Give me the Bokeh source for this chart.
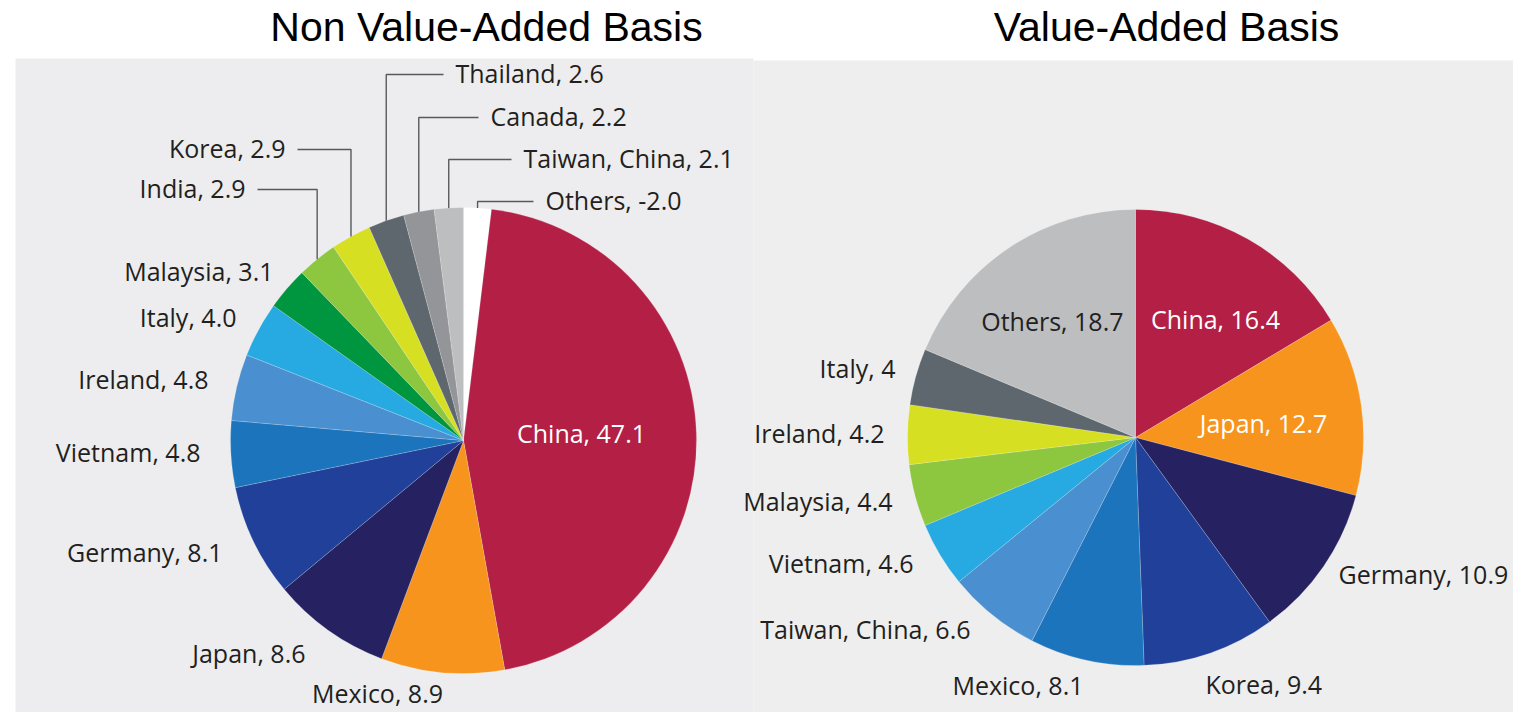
import math
from bokeh.plotting import figure
from bokeh.models import Range1d
from bokeh.core.properties import value
from bokeh.embed import file_html
from bokeh.resources import INLINE

# ---------------- data ----------------
nva_countries = ["Others", "China", "Mexico", "Japan", "Germany", "Vietnam", "Ireland",
                 "Italy", "Malaysia", "India", "Korea", "Thailand", "Canada", "Taiwan, China"]
nva_values = [-2.0, 47.1, 8.9, 8.6, 8.1, 4.8, 4.8, 4.0, 3.1, 2.9, 2.9, 2.6, 2.2, 2.1]

va_countries = ["China", "Japan", "Germany", "Korea", "Mexico", "Taiwan, China", "Vietnam",
                "Malaysia", "Ireland", "Italy", "Others"]
va_values = [16.4, 12.7, 10.9, 9.4, 8.1, 6.6, 4.6, 4.4, 4.2, 4, 18.7]

titles = ["Non Value-Added Basis", "Value-Added Basis"]

# ---------------- styles ----------------
nva_colors = ["#FFFFFF", "#B41F45", "#F7941D", "#262262", "#21409A", "#1C75BC", "#4A8FD0",
              "#27AAE1", "#00963F", "#8DC63F", "#D7DF23", "#5D676D", "#939598", "#BCBEC0"]
va_colors = ["#B41F45", "#F7941D", "#262262", "#21409A", "#1C75BC", "#4A8FD0", "#27AAE1",
             "#8DC63F", "#D7DF23", "#5D676D", "#BCBEC0"]

# label layout (pixel coords from top-left): x, y, align
nva_label_pos = [(545, 199, "left"), (581, 432, "center"), (377, 692, "center"), (305, 652, "right"),
                 (222, 551, "right"), (200, 451, "right"), (208, 378, "right"), (236, 316, "right"),
                 (273, 270, "right"), (245, 187, "right"), (285, 147, "right"), (455, 72, "left"),
                 (490, 115, "left"), (523, 157, "left")]
nva_label_col = ["#231F20", "#FFFFFF"] + ["#231F20"] * 12
nva_leaders = ["Others", "India", "Korea", "Thailand", "Canada", "Taiwan, China"]

va_label_pos = [(1215, 318, "center"), (1263, 422, "center"), (1338, 573, "left"), (1205, 683, "left"),
                (1083, 684, "right"), (970, 628, "right"), (913, 562, "right"), (892, 500, "right"),
                (884, 432, "right"), (895, 367, "right"), (1123, 320, "right")]
va_label_col = ["#FFFFFF", "#FFFFFF"] + ["#231F20"] * 9

W, H = 1513, 712


def X(rx):
    return rx


def Y(ry):
    return H - ry


p = figure(width=W, height=H, output_backend="svg", toolbar_location=None,
           x_range=Range1d(0, W), y_range=Range1d(0, H), min_border=0)
p.axis.visible = False
p.grid.visible = False
p.outline_line_color = None
p.background_fill_color = "white"
p.border_fill_color = "white"

# panels
p.quad(left=[X(15)], right=[X(753)], top=[Y(58)], bottom=[0], fill_color="#EDEDEF", line_color=None)
p.quad(left=[X(753)], right=[W], top=[Y(60)], bottom=[0], fill_color="#EEEEEF", line_color=None)

LBL_FONT = value("Open Sans")


def draw_pie(cx, cy, r, names, vals, colors, lpos, lcol, fmt, leaders):
    sizes = [abs(v) for v in vals]
    total = sum(sizes)
    starts, ends, mids = [], [], []
    cum = 0.0
    for s in sizes:
        a0 = math.pi / 2 - 2 * math.pi * cum / total
        cum += s
        a1 = math.pi / 2 - 2 * math.pi * cum / total
        starts.append(a0)
        ends.append(a1)
        mids.append((a0 + a1) / 2)
    p.wedge(x=[X(cx)] * len(vals), y=[Y(cy)] * len(vals), radius=r,
            start_angle=starts, end_angle=ends, direction="clock",
            fill_color=colors, line_color="white", line_alpha=0.3, line_width=0.6)
    texts = [f"{n}, {fmt(v)}" for n, v in zip(names, vals)]
    for t, (lx, ly, al), c in zip(texts, lpos, lcol):
        p.text(x=[X(lx)], y=[Y(ly)], text=[t], text_align=al, text_baseline="middle",
               text_font=LBL_FONT, text_font_size="25px", text_color=c)
    # leader lines
    for i, n in enumerate(names):
        if n not in leaders:
            continue
        lx, ly, al = lpos[i]
        ex = cx + r * math.cos(mids[i])
        ey = cy - r * math.sin(mids[i])
        ely = ly + 2
        hx = lx - 12 if al == "left" else lx + 12
        p.line(x=[X(hx), X(ex), X(ex)], y=[Y(ely), Y(ely), Y(ey)],
               line_color="#58595B", line_width=1.4)


draw_pie(463, 440, 233, nva_countries, nva_values, nva_colors, nva_label_pos, nva_label_col,
         lambda v: f"{v:.1f}", nva_leaders)
draw_pie(1135, 437, 228, va_countries, va_values, va_colors, va_label_pos, va_label_col,
         lambda v: f"{v}", [])

# titles
p.text(x=[X(486), X(1166)], y=[Y(26), Y(26)], text=titles, text_align="center",
       text_baseline="middle", text_font=value("Liberation Sans"), text_font_size="41px",
       text_color="black")

open("out.html", "w").write(file_html(p, INLINE))
